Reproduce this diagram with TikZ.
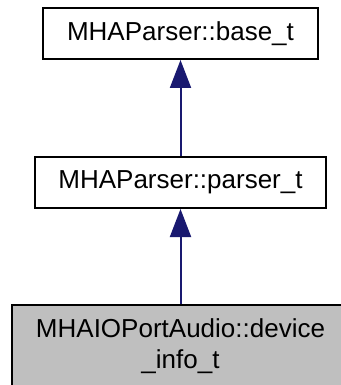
\documentclass[tikz,border=0pt]{standalone}
\usepackage{fontspec}
\setmainfont{Liberation Sans}
\usetikzlibrary{arrows.meta}
\definecolor{pfeilblau}{RGB}{25,25,112}
\definecolor{grau}{RGB}{191,191,191}
\tikzset{
    klasse/.style={draw=black, line width=2pt, fill=white, minimum height=51pt, inner sep=0pt, align=center, font=\fontsize{26}{31}\selectfont},
    erbe/.style={draw=pfeilblau, line width=2pt, -{Triangle[length=28pt,width=21pt]}}
}

\begin{document}
\begin{tikzpicture}[x=1pt,y=1pt]
    \useasboundingbox (0,0) rectangle (340,-385);
    \path node[klasse, minimum width=275pt] (base) at (180.5,-33.5) {MHAParser::base\_t}
        node[klasse, minimum width=291pt] (parser) at (180.5,-182.5) {MHAParser::parser\_t}
        node[klasse, fill=grau, minimum width=337pt, minimum height=82pt] (device) at (180.5,-346) {MHAIOPortAudio::device\\\_info\_t};
    \draw[erbe] (parser) -- (base);
    \draw[erbe] (device) -- (parser);
\end{tikzpicture}
\end{document}
